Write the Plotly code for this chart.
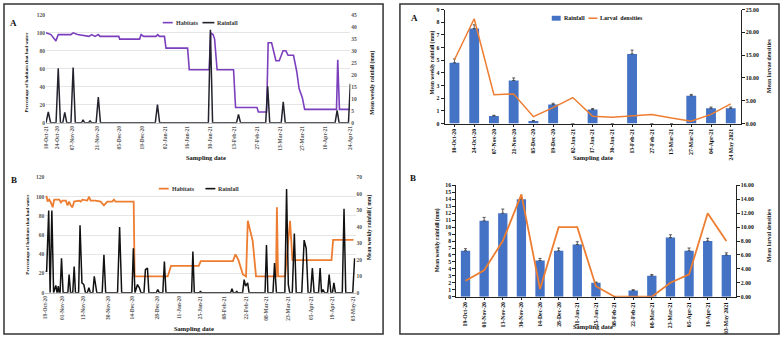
import plotly.graph_objects as go

W, H = 783, 338
FONT = "Liberation Serif"

# ---------------- DATA ----------------
# Left A: habitats with water (%) and rainfall (mm), x = days since first sampling
habA_day = [0, 3.2, 6.4, 7.9, 16, 17.5, 20.3, 27.7, 29.4, 31.6, 33.7, 34.8, 46.9, 47.5, 60.3,
            61.3, 62.9, 70.9, 72, 73.1, 76.3, 77.3, 91.2, 92.3, 105.1, 106.1, 107.6, 108.6, 110.2,
            120.8, 122.1, 135.9, 136.8, 142.1, 143.1, 145.3, 148.1, 150.2, 152.7, 154.5, 155.9,
            159.4, 161.5, 163, 165.1, 166.6, 187.1, 187.9, 189, 196]
habA_pct = [100, 98, 91, 98, 98, 100, 98, 96, 98, 96, 98, 96, 96, 93, 93,
            98, 96, 96, 98, 96, 96, 83, 83, 59, 59, 100, 98, 93, 59,
            59, 17, 17, 12, 12, 89, 89, 69, 69, 80, 80, 75,
            75, 57, 38, 28, 15, 15, 70, 15, 15]
rainA_day = [0, 1.5, 3, 6.5, 7.9, 9.3, 10.8, 12.1, 13.4, 16.1, 17.5, 18.9, 22.9, 23.9, 24.9,
             27.4, 28.4, 29.4, 32.3, 33.7, 35.1, 70.4, 71.8, 73.2, 104.6, 105.9, 107.3,
             122.7, 124, 125.3, 141.5, 142.8, 144.1, 151.5, 152.8, 154.1, 186.2, 187.5, 188.8,
             194.8, 196]
rainA_mm = [0, 4.5, 0, 0, 22.7, 0, 0, 4.4, 0, 0, 23, 0, 0, 1.2, 0,
            0, 0.8, 0, 0, 10.7, 0, 0, 7.6, 0, 0, 38.8, 0,
            0, 3.5, 0, 0, 15.2, 0, 0, 8.7, 0, 0, 5.2, 0,
            0, 16.3]
tickA_day = [0, 7, 17, 33, 47, 62, 77, 91, 106, 121, 136, 151, 165, 180, 196]
tickA_lab = ["10-Oct-21", "24-Oct-20", "07-Nov-20", "21-Nov-20", "05-Dec-20", "19-Dec-20",
             "02-Jan-21", "16-Jan-21", "30-Jan-21", "13-Feb-21", "27-Feb-21", "13-Mar-21",
             "27-Mar-21", "10-Apr-21", "24-Apr-21"]

# Left B
habB_day = [0, 0.8, 1.4, 2.4, 3.5, 4.6, 5.6, 8.8, 9.8, 10.8, 12.9, 14, 15, 16, 17.1,
            18.2, 21.3, 22.3, 23.4, 26.5, 27.6, 28.6, 31.7, 34.9, 37, 39.1, 42.2, 43.3, 44.3,
            55.8, 56.4, 77.3, 79.4, 96.9, 98.2, 118.5, 120.1, 122, 124.8, 126.8, 127.9, 129.3,
            131, 133.1, 145.7, 146.3, 147, 151.5, 154.6, 156.1, 180.8, 181.8, 194.7]
habB_pct = [100, 100, 95, 97, 94, 89, 97, 97, 94, 96, 96, 91, 95, 91, 89,
            95, 96, 95, 97, 96, 100, 96, 96, 95, 91, 95, 95, 97, 95,
            95, 17, 17, 28, 28, 33, 33, 40, 34, 19, 17, 75, 65,
            54, 17, 17, 89, 17, 17, 75, 34, 34, 55, 55]
rainB_day = [0, 0.8, 2.1, 3.0, 4.1, 5.2, 6.6, 7.4, 8.2, 8.7,
             9.3, 10.2, 11.2, 14.2, 15.0, 15.9, 17.3, 18.2, 19.0, 21.0,
             21.9, 23.1, 24.3, 25.3, 26.5, 27.5, 28.4, 30.0, 30.9, 32.5,
             35.9, 37.0, 38.1, 45.6, 46.9, 48.2, 54.7, 55.6, 56.6, 58.2,
             59.4, 60.4, 62.3, 63.2, 64.5, 65.4, 70.1, 71.0, 72.0, 74.2,
             75.2, 76.2, 92.4, 93.2, 94.1, 97.4, 98.0, 98.6, 117.1, 117.9,
             118.7, 120.3, 120.9, 121.5, 124.6, 125.6, 126.5, 127.8, 128.7, 138.8,
             139.7, 140.6, 143.8, 144.8, 146.0, 151.3, 152.4, 153.5, 154.4, 156.0,
             157.3, 158.5, 162.0, 163.5, 164.8, 166.0, 167.6, 168.7, 169.8, 172.6,
             173.6, 174.5, 175.4, 176.4, 178.3, 179.3, 180.4, 181.4, 182.3, 183.3,
             187.6, 188.7, 189.8, 194.2, 195.4]
rainB_mm = [13, 13, 50, 0, 50, 0, 4.5, 0, 4, 0,
            0, 21, 0, 0, 11, 0, 0, 16, 0, 0,
            41, 6, 5, 0, 0, 3, 0, 0, 10, 0,
            0, 23, 0, 0, 40, 0, 0, 27, 0, 5,
            3, 0, 0, 14, 15, 0, 0, 2, 0, 0,
            19, 0, 0, 25, 0, 0, 1, 0, 0, 2.5,
            0, 0, 1, 0, 0, 8, 4, 6, 0, 0,
            29, 0, 0, 18, 0, 0, 63, 5, 0, 0,
            36, 0, 0, 32, 27, 0, 0, 15, 0, 0,
            15, 0, 2, 0, 0, 11, 0, 0, 6, 0,
            0, 51, 0, 0, 21]
tickB_day = [0, 10.8, 24, 39.7, 54.7, 70.4, 84.6, 98, 113.2, 126.8, 139.8, 153.4, 168, 181.2, 194.7]
tickB_lab = ["19-Oct-20", "01-Nov-20", "13-Nov-20", "30-Nov-20", "14-Dec-20", "28-Dec-20",
             "11-Jan-20", "25-Jan-21", "08-Feb-21", "22-Feb-21", "08-Mar-21", "23-Mar-21",
             "05-Apr-21", "19-Apr-21", "03-May-21"]

# Right A: weekly rainfall bars and larval densities
catRA = ["10-Oct-20", "24-Oct-20", "07-Nov-20", "21-Nov-20", "05-Dec-20", "19-Dec-20",
         "02-Jan-21", "17-Jan-21", "30-Jan-21", "13-Feb-21", "27-Feb-21", "13-Mar-21",
         "27-Mar-21", "04-Apr-21", "24 May 2021"]
rainRA = [4.8, 7.5, 0.6, 3.4, 0.2, 1.5, 0, 1.1, 0, 5.5, 0, 0, 2.2, 1.2, 1.2]
errRA = [0.3, 0.3, 0.05, 0.2, 0.03, 0.1, 0, 0.08, 0, 0.3, 0, 0, 0.1, 0.1, 0.1]
larvRA = [14, 23, 6.3, 6.5, 1.5, 3.5, 5.7, 1.6, 1.4, 1.7, 2.0, 1.2, 0.5, 2.0, 4.3]

# Right B
catRB = ["19-Oct-20", "01-Nov-20", "13-Nov-20", "30-Nov-20", "14-Dec-20", "28-Dec-20",
         "11-Jan-21", "25-Jan-21", "08-Feb-21", "22-Feb-21", "08-Mar-21", "23-Mar-21",
         "05-Apr-21", "19-Apr-21", "03-May 2021"]
rainRB = [6.6, 10.9, 12.0, 14.0, 5.2, 6.6, 7.5, 2.0, 0, 0.9, 3.0, 8.5, 6.6, 8.0, 6.0]
errRB = [0.3, 0.5, 0.6, 0.2, 0.3, 0.4, 0.4, 0.1, 0, 0.1, 0.2, 0.4, 0.4, 0.4, 0.3]
larvRB = [2.3, 3.8, 8.0, 14.7, 1.1, 10.0, 10.0, 1.5, 0, 0, 0, 2.0, 3.2, 12.0, 8.0]

# ---------------- STYLE ----------------
PURPLE = "#7B3FBE"
ORANGE = "#ED7D31"
DARK = "#23232e"
BLUE = "#4472C4"
GRID = "#dcdcdc"
TICKGRAY = "#555555"


def fx(p):
    return p / W


def fy(p):
    return 1 - p / H


fig = go.Figure()

# Left A
fig.add_trace(go.Scatter(x=habA_day, y=habA_pct, mode="lines", line=dict(color=PURPLE, width=1.6),
                         xaxis="x", yaxis="y", showlegend=False, name="Habitats"))
fig.add_trace(go.Scatter(x=rainA_day, y=rainA_mm, mode="lines", line=dict(color=DARK, width=1.5),
                         xaxis="x", yaxis="y2", showlegend=False, name="Rainfall"))
# Left B
fig.add_trace(go.Scatter(x=habB_day, y=habB_pct, mode="lines", line=dict(color=ORANGE, width=1.8),
                         xaxis="x2", yaxis="y3", showlegend=False, name="Habitats"))
fig.add_trace(go.Scatter(x=rainB_day, y=rainB_mm, mode="lines", line=dict(color="#111111", width=1.5),
                         xaxis="x2", yaxis="y4", showlegend=False, name="Rainfall"))
# Right A
fig.add_trace(go.Bar(x=catRA, y=rainRA, marker=dict(color=BLUE, line=dict(width=0)),
                     error_y=dict(type="data", array=errRA, arrayminus=[0] * len(errRA), symmetric=False,
                                  color="#333333", thickness=0.8, width=1.5),
                     xaxis="x3", yaxis="y5", showlegend=False, name="Rainfall"))
fig.add_trace(go.Scatter(x=catRA, y=larvRA, mode="lines", line=dict(color=ORANGE, width=1.5),
                         xaxis="x3", yaxis="y6", showlegend=False, name="Larval densities"))
# Right B
fig.add_trace(go.Bar(x=catRB, y=rainRB, marker=dict(color=BLUE, line=dict(width=0)),
                     error_y=dict(type="data", array=errRB, arrayminus=[0] * len(errRB), symmetric=False,
                                  color="#333333", thickness=0.8, width=1.5),
                     xaxis="x4", yaxis="y7", showlegend=False, name="Rainfall"))
fig.add_trace(go.Scatter(x=catRB, y=larvRB, mode="lines", line=dict(color=ORANGE, width=1.8),
                         xaxis="x4", yaxis="y8", showlegend=False, name="Larval densities"))

tickfont_l = dict(family=FONT, size=5.5, color=TICKGRAY, weight="bold")
tickfont_r = dict(family=FONT, size=5.8, color="#111111", weight="bold")

layout = dict(
    width=W, height=H, margin=dict(l=0, r=0, t=0, b=0), autosize=False,
    paper_bgcolor="white", plot_bgcolor="white", bargap=0.5, hovermode=False,
    # Left A
    xaxis=dict(domain=[fx(43.3), fx(350)], anchor="y", range=[0, 196], tickmode="array",
               tickvals=tickA_day, ticktext=tickA_lab, tickangle=-90, tickfont=tickfont_l,
               showgrid=False, zeroline=False, showline=True, linecolor="#bfbfbf", linewidth=1, ticks=""),
    yaxis=dict(domain=[fy(122), fy(12)], anchor="x", range=[0, 120], dtick=20, tickfont=tickfont_l,
               showgrid=True, gridcolor=GRID, gridwidth=0.7, zeroline=False, showline=False),
    yaxis2=dict(anchor="x", overlaying="y", side="right", range=[0, 45], dtick=5, tickfont=tickfont_l,
                showgrid=False, zeroline=False, showline=False),
    # Left B
    xaxis2=dict(domain=[fx(42.7), fx(355.3)], anchor="y3", range=[0, 196], tickmode="array",
                tickvals=tickB_day, ticktext=tickB_lab, tickangle=-90, tickfont=tickfont_l,
                showgrid=False, zeroline=False, showline=True, linecolor="#bfbfbf", linewidth=1, ticks=""),
    yaxis3=dict(domain=[fy(295), fy(177.7)], anchor="x2", range=[0, 120], dtick=20, tickfont=tickfont_l,
                showgrid=True, gridcolor=GRID, gridwidth=0.7, zeroline=False, showline=False),
    yaxis4=dict(anchor="x2", overlaying="y3", side="right", range=[0, 70], dtick=10, tickfont=tickfont_l,
                showgrid=False, zeroline=False, showline=False),
    # Right A
    xaxis3=dict(domain=[fx(445), fx(743.3)], anchor="y5", type="category", tickangle=-90,
                tickfont=tickfont_r, showline=True, linecolor="#222222", linewidth=1, ticks="outside",
                ticklen=2, tickcolor="#222222", showgrid=False),
    yaxis5=dict(domain=[fy(122.7), fy(6.7)], anchor="x3", range=[0, 9], dtick=1, tickfont=tickfont_r,
                showline=True, linecolor="#222222", linewidth=1, ticks="outside", ticklen=3,
                tickcolor="#222222", showgrid=False, zeroline=False),
    yaxis6=dict(anchor="x3", overlaying="y5", side="right", range=[0, 25], dtick=5, tickformat=".2f",
                tickfont=tickfont_r, showline=True, linecolor="#222222", linewidth=1, ticks="outside",
                ticklen=3, tickcolor="#222222", showgrid=False, zeroline=False),
    # Right B
    xaxis4=dict(domain=[fx(456.7), fx(738.3)], anchor="y7", type="category", tickangle=-90,
                tickfont=tickfont_r, showline=True, linecolor="#222222", linewidth=1, ticks="outside",
                ticklen=2, tickcolor="#222222", showgrid=False),
    yaxis7=dict(domain=[fy(299), fy(185.7)], anchor="x4", range=[0, 16], dtick=1, tickfont=tickfont_r,
                showline=True, linecolor="#222222", linewidth=1, ticks="outside", ticklen=3,
                tickcolor="#222222", showgrid=False, zeroline=False),
    yaxis8=dict(anchor="x4", overlaying="y7", side="right", range=[0, 16], dtick=2, tickformat=".2f",
                tickfont=tickfont_r, showline=True, linecolor="#222222", linewidth=1, ticks="outside",
                ticklen=3, tickcolor="#222222", showgrid=False, zeroline=False),
)
fig.update_layout(**layout)

ann = []
shapes = []


def text(x, y, s, size=6.5, angle=0, color="#111111", xanchor="center"):
    ann.append(dict(x=fx(x), y=fy(y), xref="paper", yref="paper", text=s, showarrow=False,
                    textangle=angle, xanchor=xanchor, yanchor="middle",
                    font=dict(family=FONT, size=size, color=color, weight="bold")))


# panel letters
text(11, 20, "A", size=9)
text(11, 180, "B", size=9)
text(415, 15, "A", size=9)
text(413, 178, "B", size=9)

# axis titles
text(205, 157, "Sampling date", size=6.5)
text(24, 70, "Percentage of habitats that had water", size=5, angle=-90)
text(372, 81, "Mean weekly rainfall (mm)", size=5.5, angle=-90)
text(192, 331, "Sampling date", size=6.5)
text(25, 235, "Percentage of habitats that had water", size=5, angle=-90)
text(370, 228, "Mean weekly rainfall ( mm)", size=5.5, angle=-90)
text(595, 157, "Sampling date", size=6.5)
text(433, 61, "Mean weekly rainfall (mm)", size=5.5, angle=-90)
text(772, 64, "Mean larvae densities", size=5.8, angle=-90)
text(595, 329, "Sampling date", size=6.5)
text(438, 242, "Mean weekly rainfall (mm)", size=5.5, angle=-90)
text(772, 236, "Mean larval densities", size=5.8, angle=-90)


# manual legends
def leg_line(x0, x1, y, color, width=1.5):
    shapes.append(dict(type="line", xref="paper", yref="paper", x0=fx(x0), x1=fx(x1), y0=fy(y), y1=fy(y),
                       line=dict(color=color, width=width)))


leg_line(161, 171, 20, PURPLE, 1.6)
text(172, 20, "Habitats", size=6, xanchor="left", color="#333333")
leg_line(201, 213, 20, DARK, 1.6)
text(214, 20, "Rainfall", size=6, xanchor="left", color="#333333")

leg_line(157, 167, 189, ORANGE, 1.8)
text(168, 189, "Habitats", size=6, xanchor="left", color="#333333")
leg_line(204, 214, 189, "#111111", 1.6)
text(215, 189, "Rainfall", size=6, xanchor="left", color="#333333")

shapes.append(dict(type="rect", xref="paper", yref="paper", x0=fx(553), x1=fx(562), y0=fy(18), y1=fy(13),
                   fillcolor=BLUE, line=dict(width=0)))
text(563, 15.5, "Rainfall", size=6, xanchor="left")
leg_line(590, 599, 15.5, ORANGE, 1.5)
text(600, 15.5, "Larval  densities", size=6, xanchor="left")

# panel frames
shapes.append(dict(type="rect", xref="paper", yref="paper", x0=fx(1), x1=fx(383), y0=fy(337), y1=fy(1),
                   line=dict(color="#333333", width=1.5)))
shapes.append(dict(type="rect", xref="paper", yref="paper", x0=fx(400), x1=fx(782), y0=fy(337), y1=fy(1),
                   line=dict(color="#333333", width=1.5)))

fig.update_layout(annotations=ann, shapes=shapes)
fig.write_html("out.html", config={"displayModeBar": False, "staticPlot": True},
               post_script="document.body.style.margin='0';document.body.style.padding='0';"
                           "document.documentElement.style.overflow='hidden';")
